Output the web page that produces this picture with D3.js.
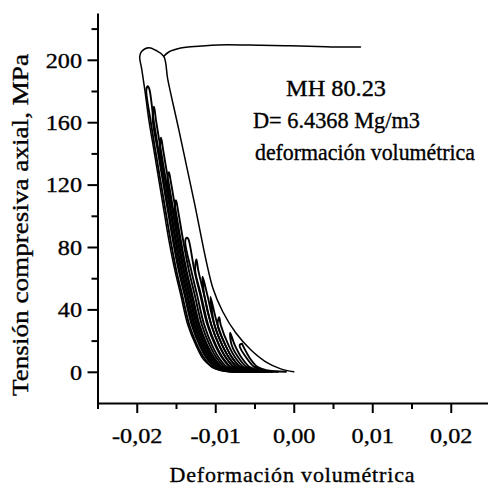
<!DOCTYPE html>
<html>
<head>
<meta charset="utf-8">
<script src="https://cdn.jsdelivr.net/npm/d3@7"></script>
<style>
  body { margin: 0; background: #fff; }
  svg { display: block; }
  svg text { font-family: "Liberation Serif", "Times New Roman", serif; fill: #000;
             stroke: #000; stroke-width: 0.35px; }
</style>
</head>
<body>
<svg id="chart" width="488" height="486" font-family="Liberation Serif"></svg>
<script>
// Axis ticks and labels
const xTicks = [-0.02, -0.01, 0, 0.01, 0.02];
const xTickLabels = ["-0,02", "-0,01", "0,00", "0,01", "0,02"];
const xMinorTicks = [-0.025, -0.015, -0.005, 0.005, 0.015, 0.025];
const yTicks = [0, 40, 80, 120, 160, 200];
const yMinorTicks = [20, 60, 100, 140, 180, 220];

// [volumetric strain, axial compressive stress (MPa)]
// Outer envelope: up the left edge, over the peak, back down to the origin
const outerLoop = [
  [-0.0074, 0], [-0.0099, 1.9], [-0.01146, 7.7], [-0.01248, 17.3], [-0.0135, 30.2],
  [-0.0144, 49.4], [-0.01516, 65.5], [-0.01592, 84.8], [-0.01656, 104], [-0.0172, 123.3],
  [-0.01783, 142.5], [-0.01847, 161.8], [-0.01898, 181.1], [-0.01936, 193.9], [-0.01962, 202.2],
  [-0.01936, 205.5], [-0.01847, 207.7], [-0.01758, 206.1], [-0.01656, 202.2],
  [-0.01605, 187.5], [-0.01465, 155.4], [-0.01274, 110.4], [-0.01032, 53.9], [-0.00904, 38.5],
  [-0.00739, 25], [-0.00548, 14.1], [-0.00357, 6.4], [-0.00166, 1.9], [0, 0]
];

// Dilatant branch at peak stress
const plateau = [
  [-0.01656, 202.2], [-0.01592, 205], [-0.0144, 207.5], [-0.01312, 208.3], [-0.00968, 209.5],
  [-0.0042, 209.3], [-0.0004, 209], [0.003, 208.6], [0.006, 208.2], [0.0085, 208.2]
];

// Loading–unloading cycles
const cycle01 = [
  [-0.0064, 0], [-0.0089, 1], [-0.0100, 3], [-0.0109, 8], [-0.0119, 17], [-0.0129, 30],
  [-0.0138, 49], [-0.01456, 65], [-0.01532, 85], [-0.01596, 104], [-0.0166, 123],
  [-0.01723, 142], [-0.01787, 162], [-0.01838, 181], [-0.01858, 183],
  [-0.01878, 181], [-0.01827, 162], [-0.01763, 142], [-0.0170, 123], [-0.01636, 104],
  [-0.01572, 85], [-0.01496, 65], [-0.0142, 49], [-0.0133, 30], [-0.0123, 17],
  [-0.0113, 8], [-0.0104, 3], [-0.0093, 1], [-0.0080, 0]
];
const cycle02 = [
  [-0.0061, 0], [-0.0086, 1], [-0.0097, 3], [-0.0106, 8], [-0.0116, 17], [-0.0126, 30],
  [-0.0135, 49], [-0.01426, 65], [-0.01502, 85], [-0.01566, 104], [-0.0163, 123],
  [-0.01693, 142], [-0.01757, 162], [-0.0178, 170],
  [-0.01797, 162], [-0.01733, 142], [-0.0167, 123], [-0.01606, 104], [-0.01542, 85],
  [-0.01466, 65], [-0.0139, 49], [-0.0130, 30], [-0.0120, 17], [-0.0110, 8],
  [-0.0101, 3], [-0.0090, 1], [-0.0077, 0]
];
const cycle03 = [
  [-0.0058, 0], [-0.0083, 1], [-0.0094, 3], [-0.0103, 8], [-0.0113, 17], [-0.0123, 30],
  [-0.0132, 49], [-0.01396, 65], [-0.01472, 85], [-0.01536, 104], [-0.0160, 123],
  [-0.01663, 142], [-0.0169, 150],
  [-0.01703, 142], [-0.0164, 123], [-0.01576, 104], [-0.01512, 85], [-0.01436, 65],
  [-0.0136, 49], [-0.0127, 30], [-0.0117, 17], [-0.0107, 8], [-0.0098, 3],
  [-0.0087, 1], [-0.0074, 0]
];
const cycle04 = [
  [-0.0055, 0], [-0.0080, 1], [-0.0091, 3], [-0.0100, 8], [-0.0110, 17], [-0.0120, 30],
  [-0.0129, 49], [-0.01366, 65], [-0.01442, 85], [-0.01506, 104], [-0.0157, 123],
  [-0.0159, 128],
  [-0.0161, 123], [-0.01546, 104], [-0.01482, 85], [-0.01406, 65], [-0.0133, 49],
  [-0.0124, 30], [-0.0114, 17], [-0.0104, 8], [-0.0095, 3], [-0.0084, 1], [-0.0071, 0]
];
const cycle05 = [
  [-0.0052, 0], [-0.0077, 1], [-0.0088, 3], [-0.0097, 8], [-0.0107, 17], [-0.0117, 30],
  [-0.0126, 49], [-0.01336, 65], [-0.01412, 85], [-0.01476, 104], [-0.0150, 110],
  [-0.01516, 104], [-0.01452, 85], [-0.01376, 65], [-0.0130, 49], [-0.0121, 30],
  [-0.0111, 17], [-0.0101, 8], [-0.0092, 3], [-0.0081, 1], [-0.0068, 0]
];
const cycle06 = [
  [-0.0045, 0], [-0.0070, 1], [-0.0081, 3], [-0.0090, 8], [-0.0100, 17], [-0.0110, 30],
  [-0.0119, 49], [-0.01266, 65], [-0.01342, 85], [-0.0136, 86],
  [-0.01382, 84], [-0.01306, 65], [-0.0123, 49], [-0.0114, 30], [-0.0104, 17],
  [-0.0094, 8], [-0.0085, 3], [-0.0074, 1], [-0.0061, 0]
];
const cycle07 = [
  [-0.0040, 0], [-0.0065, 1], [-0.0076, 3], [-0.0085, 8], [-0.0095, 17], [-0.0105, 30],
  [-0.0114, 49], [-0.01216, 65], [-0.0124, 72],
  [-0.01256, 65], [-0.0118, 49], [-0.0109, 30], [-0.0099, 17], [-0.0089, 8],
  [-0.0080, 3], [-0.0069, 1], [-0.0056, 0]
];
const cycle08 = [
  [-0.0036, 0], [-0.0061, 1], [-0.0072, 3], [-0.0081, 8], [-0.0091, 17], [-0.0101, 30],
  [-0.0110, 49], [-0.0116, 61],
  [-0.0114, 49], [-0.0105, 30], [-0.0095, 17], [-0.0085, 8], [-0.0076, 3],
  [-0.0065, 1], [-0.0052, 0]
];
const cycle09 = [
  [-0.0032, 0], [-0.0057, 1], [-0.0068, 3], [-0.0077, 8], [-0.0087, 17], [-0.0097, 30],
  [-0.0106, 48],
  [-0.0101, 30], [-0.0091, 17], [-0.0081, 8], [-0.0072, 3], [-0.0061, 1], [-0.0048, 0]
];
const cycle10 = [
  [-0.0028, 0], [-0.0053, 1], [-0.0064, 3], [-0.0073, 8], [-0.0083, 17], [-0.0093, 30],
  [-0.0095, 35],
  [-0.0097, 30], [-0.0087, 17], [-0.0077, 8], [-0.0068, 3], [-0.0057, 1], [-0.0044, 0]
];
const cycle11 = [
  [-0.0020, 0], [-0.0045, 1], [-0.0056, 3], [-0.0065, 8], [-0.0075, 17], [-0.0081, 25],
  [-0.0079, 17], [-0.0069, 8], [-0.0060, 3], [-0.0049, 1], [-0.0036, 0]
];
const cycle12 = [
  [-0.0010, 0], [-0.0035, 1], [-0.0046, 3], [-0.0055, 8], [-0.0065, 17], [-0.0066, 18],
  [-0.0069, 17], [-0.0059, 8], [-0.0050, 3], [-0.0039, 1], [-0.0026, 0]
];
const cycles = [cycle01, cycle02, cycle03, cycle04, cycle05, cycle06,
                cycle07, cycle08, cycle09, cycle10, cycle11, cycle12];

const noteLines = ["MH 80.23", "D= 6.4368 Mg/m3", "deformación volumétrica"];
const xTitle = "Deformación volumétrica";
const yTitle = "Tensión compresiva axial, MPa";

const svg = d3.select("#chart");
const x = d3.scaleLinear().domain([-0.025, 0.025]).range([97.5, 490]);
const y = d3.scaleLinear().domain([-20, 230]).range([403, 13]);
const x0 = x(-0.025), y0 = y(-20);

const line = d3.line()
  .x(d => x(d[0])).y(d => y(d[1]))
  .curve(d3.curveCatmullRom.alpha(0.5));

const curves = svg.append("g").attr("fill", "none").attr("stroke", "#000")
  .attr("stroke-linejoin", "round").attr("stroke-linecap", "round");
cycles.forEach(c => curves.append("path").attr("d", line(c)).attr("stroke-width", 1.9));
curves.append("path").attr("d", line(outerLoop)).attr("stroke-width", 1.5);
curves.append("path").attr("d", line(plateau)).attr("stroke-width", 1.5);

// Axes
function styleAxis(g) {
  g.attr("font-family", null);
  g.select(".domain").attr("stroke", "#000").attr("stroke-width", 2);
  g.selectAll(".tick line").attr("stroke", "#000").attr("stroke-width", 2);
}
const gx = svg.append("g").attr("transform", `translate(0,${y0})`)
  .call(d3.axisBottom(x).tickValues(xTicks).tickSize(10).tickSizeOuter(0)
    .tickFormat((d, i) => xTickLabels[i]))
  .call(styleAxis);
svg.append("g").attr("transform", `translate(0,${y0})`)
  .call(d3.axisBottom(x).tickValues(xMinorTicks).tickSize(6).tickSizeOuter(0).tickFormat(""))
  .call(g => g.select(".domain").remove())
  .call(styleAxis);
gx.selectAll("text").attr("font-size", 22).attr("y", 24).attr("dy", "0.71em");

const gy = svg.append("g").attr("transform", `translate(${x0},0)`)
  .call(d3.axisLeft(y).tickValues(yTicks).tickSize(10).tickSizeOuter(0))
  .call(styleAxis);
svg.append("g").attr("transform", `translate(${x0},0)`)
  .call(d3.axisLeft(y).tickValues(yMinorTicks).tickSize(6).tickSizeOuter(0).tickFormat(""))
  .call(g => g.select(".domain").remove())
  .call(styleAxis);
gy.selectAll("text").attr("font-size", 22).attr("x", -15.5).attr("dy", "0.33em");

// Stretch tick labels slightly to the printed width
svg.selectAll(".tick text").each(function () {
  const w = this.getComputedTextLength();
  d3.select(this).attr("textLength", w * 1.1).attr("lengthAdjust", "spacingAndGlyphs");
});

// Titles
svg.append("text").attr("x", 292).attr("y", 482).attr("text-anchor", "middle")
  .attr("font-size", 22).attr("textLength", 245).attr("lengthAdjust", "spacing")
  .text(xTitle);
svg.append("text").attr("transform", "translate(28,225) rotate(-90)")
  .attr("text-anchor", "middle").attr("font-size", 23)
  .attr("textLength", 342).attr("lengthAdjust", "spacingAndGlyphs")
  .text(yTitle);

// Specimen note
const notePos = [[286, 96, 100], [253, 128, 167], [255, 160, 220]];
noteLines.forEach((t, i) => {
  svg.append("text").attr("x", notePos[i][0]).attr("y", notePos[i][1])
    .attr("font-size", 23).attr("textLength", notePos[i][2])
    .attr("lengthAdjust", "spacingAndGlyphs").text(t);
});
</script>
</body>
</html>
